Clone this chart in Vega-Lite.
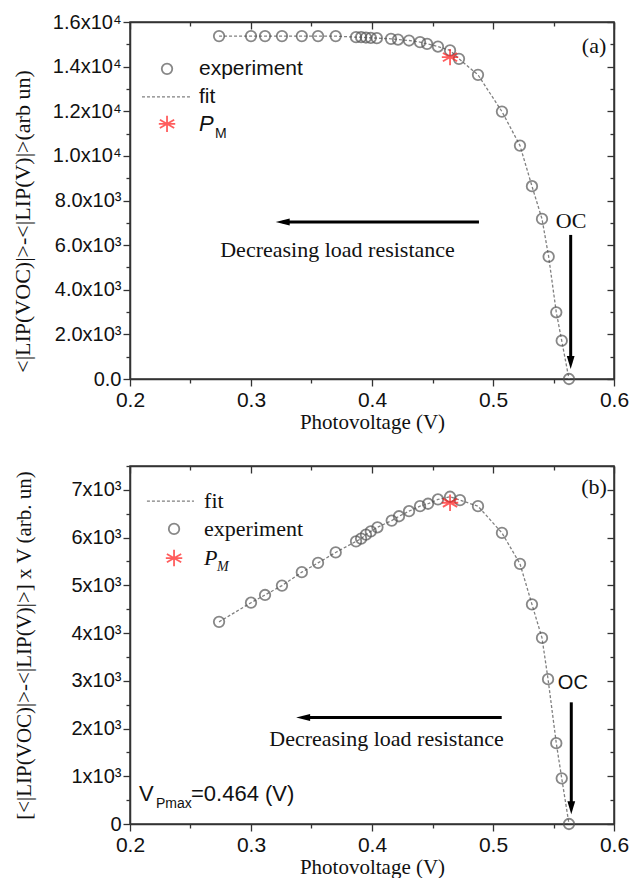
{
  "$schema": "https://vega.github.io/schema/vega-lite/v6.json",
  "padding": {"left": 10, "top": 11, "right": 0, "bottom": 0},
  "spacing": 22,
  "background": "white",
  "config": {
    "font": "Liberation Sans",
    "view": {"stroke": "#333", "strokeWidth": 1.5},
    "axis": {"grid": false, "domainColor": "#333", "domainWidth": 1.5, "tickColor": "#333", "tickWidth": 1.3, "labelColor": "#111", "labelFont": "Liberation Sans", "titleFont": "Liberation Serif", "titleFontWeight": "normal", "titleColor": "#111", "labelFlush": false, "labelOverlap": false},
    "text": {"color": "#111"}
  },
  "datasets": {
    "expA": [
      {"V": 0.2736, "I": 15367}, {"V": 0.3000, "I": 15367}, {"V": 0.3116, "I": 15367}, {"V": 0.3256, "I": 15367},
      {"V": 0.3420, "I": 15367}, {"V": 0.3554, "I": 15367}, {"V": 0.3700, "I": 15367}, {"V": 0.3868, "I": 15322},
      {"V": 0.3910, "I": 15322}, {"V": 0.3950, "I": 15304}, {"V": 0.3990, "I": 15290}, {"V": 0.4040, "I": 15277},
      {"V": 0.4157, "I": 15246}, {"V": 0.4215, "I": 15214}, {"V": 0.4306, "I": 15170}, {"V": 0.4397, "I": 15098},
      {"V": 0.4455, "I": 15021}, {"V": 0.4545, "I": 14900}, {"V": 0.4645, "I": 14726}, {"V": 0.4719, "I": 14350},
      {"V": 0.4876, "I": 13632}, {"V": 0.5074, "I": 11986}, {"V": 0.5223, "I": 10461}, {"V": 0.5322, "I": 8641},
      {"V": 0.5405, "I": 7174}, {"V": 0.5460, "I": 5484}, {"V": 0.5523, "I": 2990}, {"V": 0.5568, "I": 1717},
      {"V": 0.5628, "I": 0}
    ],
    "expB": [
      {"V": 0.2736, "P": 4235}, {"V": 0.3000, "P": 4636}, {"V": 0.3116, "P": 4798}, {"V": 0.3256, "P": 4994},
      {"V": 0.3420, "P": 5276}, {"V": 0.3554, "P": 5470}, {"V": 0.3700, "P": 5689}, {"V": 0.3868, "P": 5921},
      {"V": 0.3910, "P": 5978}, {"V": 0.3950, "P": 6062}, {"V": 0.3990, "P": 6131}, {"V": 0.4045, "P": 6216},
      {"V": 0.4163, "P": 6357}, {"V": 0.4223, "P": 6447}, {"V": 0.4306, "P": 6553}, {"V": 0.4397, "P": 6658},
      {"V": 0.4463, "P": 6709}, {"V": 0.4545, "P": 6799}, {"V": 0.4645, "P": 6856}, {"V": 0.4727, "P": 6785},
      {"V": 0.4876, "P": 6658}, {"V": 0.5074, "P": 6098}, {"V": 0.5223, "P": 5451}, {"V": 0.5322, "P": 4602},
      {"V": 0.5405, "P": 3898}, {"V": 0.5455, "P": 3034}, {"V": 0.5523, "P": 1694}, {"V": 0.5568, "P": 957},
      {"V": 0.5628, "P": 0}
    ],
    "pmA": [{"V": 0.4645, "I": 14425}],
    "pmB": [{"V": 0.4645, "P": 6730}],
    "one": [{}]
  },
  "vconcat": [
    {
      "width": 484,
      "height": 357,
      "layer": [
        {
          "data": {"name": "expA"},
          "mark": {"type": "line", "stroke": "#808080", "strokeWidth": 1.3, "strokeDash": [3, 2]},
          "encoding": {
            "x": {"field": "V", "type": "quantitative", "scale": {"domain": [0.2, 0.6], "nice": false, "zero": false},
              "axis": {"orient": "bottom", "values": [0.2, 0.25, 0.3, 0.35, 0.4, 0.45, 0.5, 0.55, 0.6],
                "labelExpr": "abs(datum.value*10-round(datum.value*10))>0.01 ? '' : format(datum.value,'.1f')",
                "tickSize": {"condition": {"test": "abs(datum.value*10-round(datum.value*10))>0.01", "value": 4}, "value": 7},
                "labelFontSize": 21, "labelPadding": 3, "title": "Photovoltage (V)", "titleFontSize": 21, "titlePadding": 0, "minExtent": 32, "maxExtent": 32}},
            "y": {"field": "I", "type": "quantitative", "scale": {"domain": [0, 16000], "nice": false, "zero": false},
              "axis": {"orient": "left", "values": [0, 1000, 2000, 3000, 4000, 5000, 6000, 7000, 8000, 9000, 10000, 11000, 12000, 13000, 14000, 15000, 16000],
                "labelExpr": "datum.value % 2000 != 0 ? '' : datum.value == 0 ? '0.0' : datum.value >= 10000 ? format(datum.value/10000,'.1f') + 'x10⁴' : format(datum.value/1000,'.1f') + 'x10³'",
                "tickSize": {"condition": {"test": "datum.value % 2000 != 0", "value": 4}, "value": 7},
                "labelFontSize": 20, "labelPadding": 2, "title": "<|LIP(VOC)|>-<|LIP(V)|>(arb un)", "titleFontSize": 22, "titlePadding": 0, "minExtent": 96, "maxExtent": 96, "titleY": 199}}
          }
        },
        {
          "data": {"name": "expA"},
          "mark": {"type": "point", "shape": "circle", "filled": false, "stroke": "#555", "strokeWidth": 1.8, "size": 110},
          "encoding": {
            "x": {"field": "V", "type": "quantitative", "scale": {"domain": [0.2, 0.6], "nice": false, "zero": false},
              "axis": {"orient": "top", "values": [0.2, 0.25, 0.3, 0.35, 0.4, 0.45, 0.5, 0.55, 0.6], "labels": false, "title": null,
                "tickSize": {"condition": {"test": "abs(datum.value*10-round(datum.value*10))>0.01", "value": -4}, "value": -7}, "minExtent": 0, "maxExtent": 0}},
            "y": {"field": "I", "type": "quantitative", "scale": {"domain": [0, 16000], "nice": false, "zero": false},
              "axis": {"orient": "right", "values": [0, 1000, 2000, 3000, 4000, 5000, 6000, 7000, 8000, 9000, 10000, 11000, 12000, 13000, 14000, 15000, 16000], "labels": false, "title": null,
                "tickSize": {"condition": {"test": "datum.value % 2000 != 0", "value": -4}, "value": -7}, "minExtent": 0, "maxExtent": 0}}
          }
        },
        {
          "data": {"name": "pmA"},
          "mark": {"type": "point", "shape": "M0,-1L0,1M-0.87,-0.5L0.87,0.5M-0.87,0.5L0.87,-0.5M-1,0L1,0", "filled": false, "stroke": "#ff1a1a", "strokeWidth": 1.8, "size": 270},
          "encoding": {
            "x": {"field": "V", "type": "quantitative", "scale": {"domain": [0.2, 0.6], "nice": false, "zero": false}, "axis": null},
            "y": {"field": "I", "type": "quantitative", "scale": {"domain": [0, 16000], "nice": false, "zero": false}, "axis": null}
          }
        },
        {
          "data": {"name": "one"},
          "mark": {"type": "rule", "strokeWidth": 3, "color": "black"},
          "encoding": {
            "x": {"datum": 0.3262, "type": "quantitative", "scale": {"domain": [0.2, 0.6], "nice": false, "zero": false}, "axis": null},
            "x2": {"datum": 0.4884},
            "y": {"datum": 7040, "type": "quantitative", "scale": {"domain": [0, 16000], "nice": false, "zero": false}, "axis": null}
          }
        },
        {
          "data": {"name": "one"},
          "mark": {"type": "point", "shape": "M1,-0.5L1,0.5L-1,0Z", "filled": true, "color": "black", "opacity": 1, "size": 196},
          "encoding": {
            "x": {"datum": 0.3262, "type": "quantitative", "scale": {"domain": [0.2, 0.6], "nice": false, "zero": false}, "axis": null},
            "y": {"datum": 7040, "type": "quantitative", "scale": {"domain": [0, 16000], "nice": false, "zero": false}, "axis": null}
          }
        },
        {
          "data": {"name": "one"},
          "mark": {"type": "rule", "strokeWidth": 3, "color": "black"},
          "encoding": {
            "x": {"datum": 0.5642, "type": "quantitative", "scale": {"domain": [0.2, 0.6], "nice": false, "zero": false}, "axis": null},
            "y": {"datum": 6457, "type": "quantitative", "scale": {"domain": [0, 16000], "nice": false, "zero": false}, "axis": null},
            "y2": {"datum": 740}
          }
        },
        {
          "data": {"name": "one"},
          "mark": {"type": "point", "shape": "M-0.6,-1L0.6,-1L0,1Z", "filled": true, "color": "black", "opacity": 1, "size": 169},
          "encoding": {
            "x": {"datum": 0.5642, "type": "quantitative", "scale": {"domain": [0.2, 0.6], "nice": false, "zero": false}, "axis": null},
            "y": {"datum": 740, "type": "quantitative", "scale": {"domain": [0, 16000], "nice": false, "zero": false}, "axis": null}
          }
        },
        {
          "data": {"name": "one"},
          "mark": {"type": "text", "font": "Liberation Serif", "fontSize": 22, "align": "center", "baseline": "middle", "text": "Decreasing load resistance"},
          "encoding": {
            "x": {"datum": 0.3715, "type": "quantitative", "scale": {"domain": [0.2, 0.6], "nice": false, "zero": false}, "axis": null},
            "y": {"datum": 5784, "type": "quantitative", "scale": {"domain": [0, 16000], "nice": false, "zero": false}, "axis": null}
          }
        },
        {
          "data": {"name": "one"},
          "mark": {"type": "text", "font": "Liberation Serif", "fontSize": 22, "align": "center", "baseline": "middle", "text": "OC"},
          "encoding": {
            "x": {"datum": 0.5645, "type": "quantitative", "scale": {"domain": [0.2, 0.6], "nice": false, "zero": false}, "axis": null},
            "y": {"datum": 7085, "type": "quantitative", "scale": {"domain": [0, 16000], "nice": false, "zero": false}, "axis": null}
          }
        },
        {
          "data": {"name": "one"},
          "mark": {"type": "text", "font": "Liberation Serif", "fontSize": 22, "align": "center", "baseline": "middle", "text": "(a)"},
          "encoding": {
            "x": {"datum": 0.5835, "type": "quantitative", "scale": {"domain": [0.2, 0.6], "nice": false, "zero": false}, "axis": null},
            "y": {"datum": 14946, "type": "quantitative", "scale": {"domain": [0, 16000], "nice": false, "zero": false}, "axis": null}
          }
        },
        {
          "data": {"name": "one"},
          "mark": {"type": "point", "shape": "circle", "filled": false, "stroke": "#555", "strokeWidth": 1.8, "size": 110},
          "encoding": {
            "x": {"datum": 0.2306, "type": "quantitative", "scale": {"domain": [0.2, 0.6], "nice": false, "zero": false}, "axis": null},
            "y": {"datum": 13900, "type": "quantitative", "scale": {"domain": [0, 16000], "nice": false, "zero": false}, "axis": null}
          }
        },
        {
          "data": {"name": "one"},
          "mark": {"type": "text", "fontSize": 21, "align": "left", "baseline": "middle", "text": "experiment"},
          "encoding": {
            "x": {"datum": 0.2570, "type": "quantitative", "scale": {"domain": [0.2, 0.6], "nice": false, "zero": false}, "axis": null},
            "y": {"datum": 13900, "type": "quantitative", "scale": {"domain": [0, 16000], "nice": false, "zero": false}, "axis": null}
          }
        },
        {
          "data": {"name": "one"},
          "mark": {"type": "rule", "stroke": "#808080", "strokeWidth": 1.3, "strokeDash": [3, 2]},
          "encoding": {
            "x": {"datum": 0.2099, "type": "quantitative", "scale": {"domain": [0.2, 0.6], "nice": false, "zero": false}, "axis": null},
            "x2": {"datum": 0.2512},
            "y": {"datum": 12645, "type": "quantitative", "scale": {"domain": [0, 16000], "nice": false, "zero": false}, "axis": null}
          }
        },
        {
          "data": {"name": "one"},
          "mark": {"type": "text", "fontSize": 21, "align": "left", "baseline": "middle", "text": "fit"},
          "encoding": {
            "x": {"datum": 0.2570, "type": "quantitative", "scale": {"domain": [0.2, 0.6], "nice": false, "zero": false}, "axis": null},
            "y": {"datum": 12645, "type": "quantitative", "scale": {"domain": [0, 16000], "nice": false, "zero": false}, "axis": null}
          }
        },
        {
          "data": {"name": "one"},
          "mark": {"type": "point", "shape": "M0,-1L0,1M-0.87,-0.5L0.87,0.5M-0.87,0.5L0.87,-0.5M-1,0L1,0", "filled": false, "stroke": "#ff1a1a", "strokeWidth": 1.8, "size": 270},
          "encoding": {
            "x": {"datum": 0.2306, "type": "quantitative", "scale": {"domain": [0.2, 0.6], "nice": false, "zero": false}, "axis": null},
            "y": {"datum": 11434, "type": "quantitative", "scale": {"domain": [0, 16000], "nice": false, "zero": false}, "axis": null}
          }
        },
        {
          "data": {"name": "one"},
          "mark": {"type": "text", "fontSize": 22, "fontStyle": "italic", "align": "left", "baseline": "middle", "text": "P"},
          "encoding": {
            "x": {"datum": 0.2570, "type": "quantitative", "scale": {"domain": [0.2, 0.6], "nice": false, "zero": false}, "axis": null},
            "y": {"datum": 11434, "type": "quantitative", "scale": {"domain": [0, 16000], "nice": false, "zero": false}, "axis": null}
          }
        },
        {
          "data": {"name": "one"},
          "mark": {"type": "text", "fontSize": 14, "align": "left", "baseline": "middle", "text": "M"},
          "encoding": {
            "x": {"datum": 0.2702, "type": "quantitative", "scale": {"domain": [0.2, 0.6], "nice": false, "zero": false}, "axis": null},
            "y": {"datum": 10986, "type": "quantitative", "scale": {"domain": [0, 16000], "nice": false, "zero": false}, "axis": null}
          }
        }
      ]
    },
    {
      "width": 484,
      "height": 358,
      "layer": [
        {
          "data": {"name": "expB"},
          "mark": {"type": "line", "stroke": "#808080", "strokeWidth": 1.3, "strokeDash": [3, 2]},
          "encoding": {
            "x": {"field": "V", "type": "quantitative", "scale": {"domain": [0.2, 0.6], "nice": false, "zero": false},
              "axis": {"orient": "bottom", "values": [0.2, 0.25, 0.3, 0.35, 0.4, 0.45, 0.5, 0.55, 0.6],
                "labelExpr": "abs(datum.value*10-round(datum.value*10))>0.01 ? '' : format(datum.value,'.1f')",
                "tickSize": {"condition": {"test": "abs(datum.value*10-round(datum.value*10))>0.01", "value": 4}, "value": 7},
                "labelFontSize": 21, "labelPadding": 3, "title": "Photovoltage (V)", "titleFontSize": 21, "titlePadding": 0, "minExtent": 32, "maxExtent": 32}},
            "y": {"field": "P", "type": "quantitative", "scale": {"domain": [0, 7500], "nice": false, "zero": false},
              "axis": {"orient": "left", "values": [0, 500, 1000, 1500, 2000, 2500, 3000, 3500, 4000, 4500, 5000, 5500, 6000, 6500, 7000, 7500],
                "labelExpr": "datum.value % 1000 != 0 ? '' : datum.value == 0 ? '0' : format(datum.value/1000,'d') + 'x10³'",
                "tickSize": {"condition": {"test": "datum.value % 1000 != 0", "value": 4}, "value": 7},
                "labelFontSize": 20, "labelPadding": 2, "title": "[<|LIP(VOC)|>-<|LIP(V)|>]  x V (arb. un)", "titleFontSize": 21, "titlePadding": 0, "minExtent": 96, "maxExtent": 96}}
          }
        },
        {
          "data": {"name": "expB"},
          "mark": {"type": "point", "shape": "circle", "filled": false, "stroke": "#555", "strokeWidth": 1.8, "size": 110},
          "encoding": {
            "x": {"field": "V", "type": "quantitative", "scale": {"domain": [0.2, 0.6], "nice": false, "zero": false},
              "axis": {"orient": "top", "values": [0.2, 0.25, 0.3, 0.35, 0.4, 0.45, 0.5, 0.55, 0.6], "labels": false, "title": null,
                "tickSize": {"condition": {"test": "abs(datum.value*10-round(datum.value*10))>0.01", "value": -4}, "value": -7}, "minExtent": 0, "maxExtent": 0}},
            "y": {"field": "P", "type": "quantitative", "scale": {"domain": [0, 7500], "nice": false, "zero": false},
              "axis": {"orient": "right", "values": [0, 500, 1000, 1500, 2000, 2500, 3000, 3500, 4000, 4500, 5000, 5500, 6000, 6500, 7000, 7500], "labels": false, "title": null,
                "tickSize": {"condition": {"test": "datum.value % 1000 != 0", "value": -4}, "value": -7}, "minExtent": 0, "maxExtent": 0}}
          }
        },
        {
          "data": {"name": "pmB"},
          "mark": {"type": "point", "shape": "M0,-1L0,1M-0.87,-0.5L0.87,0.5M-0.87,0.5L0.87,-0.5M-1,0L1,0", "filled": false, "stroke": "#ff1a1a", "strokeWidth": 1.8, "size": 270},
          "encoding": {
            "x": {"field": "V", "type": "quantitative", "scale": {"domain": [0.2, 0.6], "nice": false, "zero": false}, "axis": null},
            "y": {"field": "P", "type": "quantitative", "scale": {"domain": [0, 7500], "nice": false, "zero": false}, "axis": null}
          }
        },
        {
          "data": {"name": "one"},
          "mark": {"type": "rule", "strokeWidth": 3, "color": "black"},
          "encoding": {
            "x": {"datum": 0.3431, "type": "quantitative", "scale": {"domain": [0.2, 0.6], "nice": false, "zero": false}, "axis": null},
            "x2": {"datum": 0.5072},
            "y": {"datum": 2233, "type": "quantitative", "scale": {"domain": [0, 7500], "nice": false, "zero": false}, "axis": null}
          }
        },
        {
          "data": {"name": "one"},
          "mark": {"type": "point", "shape": "M1,-0.5L1,0.5L-1,0Z", "filled": true, "color": "black", "opacity": 1, "size": 196},
          "encoding": {
            "x": {"datum": 0.3431, "type": "quantitative", "scale": {"domain": [0.2, 0.6], "nice": false, "zero": false}, "axis": null},
            "y": {"datum": 2233, "type": "quantitative", "scale": {"domain": [0, 7500], "nice": false, "zero": false}, "axis": null}
          }
        },
        {
          "data": {"name": "one"},
          "mark": {"type": "rule", "strokeWidth": 3, "color": "black"},
          "encoding": {
            "x": {"datum": 0.5647, "type": "quantitative", "scale": {"domain": [0.2, 0.6], "nice": false, "zero": false}, "axis": null},
            "y": {"datum": 2549, "type": "quantitative", "scale": {"domain": [0, 7500], "nice": false, "zero": false}, "axis": null},
            "y2": {"datum": 341}
          }
        },
        {
          "data": {"name": "one"},
          "mark": {"type": "point", "shape": "M-0.6,-1L0.6,-1L0,1Z", "filled": true, "color": "black", "opacity": 1, "size": 169},
          "encoding": {
            "x": {"datum": 0.5647, "type": "quantitative", "scale": {"domain": [0.2, 0.6], "nice": false, "zero": false}, "axis": null},
            "y": {"datum": 341, "type": "quantitative", "scale": {"domain": [0, 7500], "nice": false, "zero": false}, "axis": null}
          }
        },
        {
          "data": {"name": "one"},
          "mark": {"type": "text", "font": "Liberation Serif", "fontSize": 22, "align": "center", "baseline": "middle", "text": "Decreasing load resistance"},
          "encoding": {
            "x": {"datum": 0.412, "type": "quantitative", "scale": {"domain": [0.2, 0.6], "nice": false, "zero": false}, "axis": null},
            "y": {"datum": 1791, "type": "quantitative", "scale": {"domain": [0, 7500], "nice": false, "zero": false}, "axis": null}
          }
        },
        {
          "data": {"name": "one"},
          "mark": {"type": "text", "fontSize": 20, "align": "center", "baseline": "middle", "text": "OC"},
          "encoding": {
            "x": {"datum": 0.566, "type": "quantitative", "scale": {"domain": [0.2, 0.6], "nice": false, "zero": false}, "axis": null},
            "y": {"datum": 2944, "type": "quantitative", "scale": {"domain": [0, 7500], "nice": false, "zero": false}, "axis": null}
          }
        },
        {
          "data": {"name": "one"},
          "mark": {"type": "text", "font": "Liberation Serif", "fontSize": 22, "align": "center", "baseline": "middle", "text": "(b)"},
          "encoding": {
            "x": {"datum": 0.5835, "type": "quantitative", "scale": {"domain": [0.2, 0.6], "nice": false, "zero": false}, "axis": null},
            "y": {"datum": 7052, "type": "quantitative", "scale": {"domain": [0, 7500], "nice": false, "zero": false}, "axis": null}
          }
        },
        {
          "data": {"name": "one"},
          "mark": {"type": "text", "fontSize": 22, "align": "left", "baseline": "middle", "text": "V"},
          "encoding": {
            "x": {"datum": 0.2074, "type": "quantitative", "scale": {"domain": [0.2, 0.6], "nice": false, "zero": false}, "axis": null},
            "y": {"datum": 626, "type": "quantitative", "scale": {"domain": [0, 7500], "nice": false, "zero": false}, "axis": null}
          }
        },
        {
          "data": {"name": "one"},
          "mark": {"type": "text", "fontSize": 14, "align": "left", "baseline": "middle", "text": "Pmax"},
          "encoding": {
            "x": {"datum": 0.2215, "type": "quantitative", "scale": {"domain": [0.2, 0.6], "nice": false, "zero": false}, "axis": null},
            "y": {"datum": 417, "type": "quantitative", "scale": {"domain": [0, 7500], "nice": false, "zero": false}, "axis": null}
          }
        },
        {
          "data": {"name": "one"},
          "mark": {"type": "text", "fontSize": 22, "align": "left", "baseline": "middle", "text": "=0.464 (V)"},
          "encoding": {
            "x": {"datum": 0.2504, "type": "quantitative", "scale": {"domain": [0.2, 0.6], "nice": false, "zero": false}, "axis": null},
            "y": {"datum": 626, "type": "quantitative", "scale": {"domain": [0, 7500], "nice": false, "zero": false}, "axis": null}
          }
        },
        {
          "data": {"name": "one"},
          "mark": {"type": "rule", "stroke": "#808080", "strokeWidth": 1.3, "strokeDash": [3, 2]},
          "encoding": {
            "x": {"datum": 0.2140, "type": "quantitative", "scale": {"domain": [0.2, 0.6], "nice": false, "zero": false}, "axis": null},
            "x2": {"datum": 0.2529},
            "y": {"datum": 6763, "type": "quantitative", "scale": {"domain": [0, 7500], "nice": false, "zero": false}, "axis": null}
          }
        },
        {
          "data": {"name": "one"},
          "mark": {"type": "text", "font": "Liberation Serif", "fontSize": 22, "align": "left", "baseline": "middle", "text": "fit"},
          "encoding": {
            "x": {"datum": 0.2612, "type": "quantitative", "scale": {"domain": [0.2, 0.6], "nice": false, "zero": false}, "axis": null},
            "y": {"datum": 6763, "type": "quantitative", "scale": {"domain": [0, 7500], "nice": false, "zero": false}, "axis": null}
          }
        },
        {
          "data": {"name": "one"},
          "mark": {"type": "point", "shape": "circle", "filled": false, "stroke": "#555", "strokeWidth": 1.8, "size": 110},
          "encoding": {
            "x": {"datum": 0.2364, "type": "quantitative", "scale": {"domain": [0.2, 0.6], "nice": false, "zero": false}, "axis": null},
            "y": {"datum": 6182, "type": "quantitative", "scale": {"domain": [0, 7500], "nice": false, "zero": false}, "axis": null}
          }
        },
        {
          "data": {"name": "one"},
          "mark": {"type": "text", "font": "Liberation Serif", "fontSize": 22, "align": "left", "baseline": "middle", "text": "experiment"},
          "encoding": {
            "x": {"datum": 0.2612, "type": "quantitative", "scale": {"domain": [0.2, 0.6], "nice": false, "zero": false}, "axis": null},
            "y": {"datum": 6182, "type": "quantitative", "scale": {"domain": [0, 7500], "nice": false, "zero": false}, "axis": null}
          }
        },
        {
          "data": {"name": "one"},
          "mark": {"type": "point", "shape": "M0,-1L0,1M-0.87,-0.5L0.87,0.5M-0.87,0.5L0.87,-0.5M-1,0L1,0", "filled": false, "stroke": "#ff1a1a", "strokeWidth": 1.8, "size": 270},
          "encoding": {
            "x": {"datum": 0.2364, "type": "quantitative", "scale": {"domain": [0.2, 0.6], "nice": false, "zero": false}, "axis": null},
            "y": {"datum": 5571, "type": "quantitative", "scale": {"domain": [0, 7500], "nice": false, "zero": false}, "axis": null}
          }
        },
        {
          "data": {"name": "one"},
          "mark": {"type": "text", "font": "Liberation Serif", "fontSize": 22, "fontStyle": "italic", "align": "left", "baseline": "middle", "text": "P"},
          "encoding": {
            "x": {"datum": 0.2612, "type": "quantitative", "scale": {"domain": [0.2, 0.6], "nice": false, "zero": false}, "axis": null},
            "y": {"datum": 5571, "type": "quantitative", "scale": {"domain": [0, 7500], "nice": false, "zero": false}, "axis": null}
          }
        },
        {
          "data": {"name": "one"},
          "mark": {"type": "text", "font": "Liberation Serif", "fontSize": 14, "fontStyle": "italic", "align": "left", "baseline": "middle", "text": "M"},
          "encoding": {
            "x": {"datum": 0.2719, "type": "quantitative", "scale": {"domain": [0.2, 0.6], "nice": false, "zero": false}, "axis": null},
            "y": {"datum": 5394, "type": "quantitative", "scale": {"domain": [0, 7500], "nice": false, "zero": false}, "axis": null}
          }
        }
      ]
    }
  ]
}
